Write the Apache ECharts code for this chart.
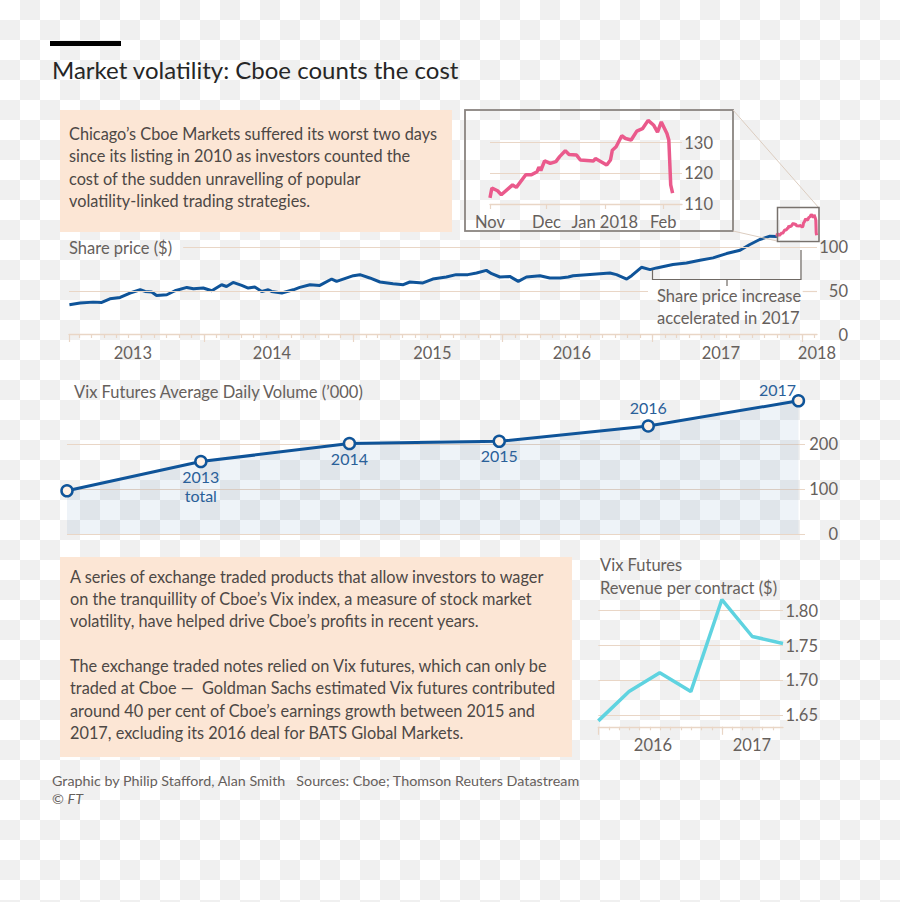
<!DOCTYPE html>
<html>
<head>
<meta charset="utf-8">
<script src="https://cdn.jsdelivr.net/npm/echarts@6/dist/echarts.min.js"></script>
<style>
html,body{margin:0;padding:0;}
body{width:900px;height:902px;position:relative;overflow:hidden;background-color:#ffffff;
  background-image:url("data:image/svg+xml,%3Csvg xmlns='http://www.w3.org/2000/svg' width='40' height='40'%3E%3Crect width='40' height='40' fill='%23ffffff'/%3E%3Crect x='20' y='0' width='20' height='20' fill='%23f0f0f0'/%3E%3Crect x='0' y='20' width='20' height='20' fill='%23f0f0f0'/%3E%3C/svg%3E");
  background-size:40px 40px;background-repeat:repeat;
  font-family:Lato,"Open Sans",sans-serif;color:#4d4845;}
#chart{position:absolute;left:0;top:0;width:900px;height:902px;z-index:2;}
.box{position:absolute;background:#fce6d5;z-index:1;}
.t{position:absolute;white-space:nowrap;z-index:3;}
.body{font-size:16.3px;line-height:22.4px;color:#4d4845;}
.lab{font-size:16.5px;line-height:20px;color:#66605c;}
#ov{position:absolute;left:0;top:0;z-index:3;}
</style>
</head>
<body>
<div style="position:absolute;left:50px;top:41px;width:71px;height:4.5px;background:#000;"></div>
<div class="t" style="left:52px;top:55px;font-size:24px;line-height:30px;color:#262626;">Market volatility: Cboe counts the cost</div>

<div class="box" style="left:60px;top:110px;width:392px;height:122px;"></div>
<div class="t body" style="left:69px;top:122.8px;">Chicago’s Cboe Markets suffered its worst two days<br>since its listing in 2010 as investors counted the<br>cost of the sudden unravelling of popular<br>volatility-linked trading strategies.</div>

<div class="t lab" style="left:69px;top:238px;">Share price ($)</div>
<div class="t lab" style="left:657px;top:285px;line-height:22px;">Share price increase<br>accelerated in 2017</div>
<div class="t lab" style="left:74px;top:382px;">Vix Futures Average Daily Volume (’000)</div>

<div class="box" style="left:60px;top:557px;width:512px;height:200px;"></div>
<div class="t body" style="left:70px;top:565.9px;line-height:22.3px;">A series of exchange traded products that allow investors to wager<br>on the tranquillity of Cboe’s Vix index, a measure of stock market<br>volatility, have helped drive Cboe’s profits in recent years.<br><br>The exchange traded notes relied on Vix futures, which can only be<br>traded at Cboe —&nbsp; Goldman Sachs estimated Vix futures contributed<br>around 40 per cent of Cboe’s earnings growth between 2015 and<br>2017, excluding its 2016 deal for BATS Global Markets.</div>

<div class="t lab" style="left:600px;top:554px;line-height:23px;">Vix Futures<br>Revenue per contract ($)</div>

<div class="t" style="left:52px;top:772px;font-size:14.3px;line-height:18px;color:#66605c;">Graphic by Philip Stafford, Alan Smith&nbsp;&nbsp; Sources: Cboe; Thomson Reuters Datastream<br>© <i>FT</i></div>

<svg id="ov" width="900" height="902">
  <rect x="465" y="110" width="268" height="121" fill="none" stroke="#8a8480" stroke-width="1.8"/>
  <line x1="733" y1="110" x2="819" y2="208" stroke="#dccdc0" stroke-width="1"/>
  <line x1="733" y1="231" x2="777" y2="241" stroke="#dccdc0" stroke-width="1"/>
  <rect x="777.5" y="207.5" width="41.5" height="34" fill="none" stroke="#77716c" stroke-width="1.5"/>
  <polyline points="652.5,270 652.5,279.5 801,279.5 801,250" fill="none" stroke="#6f6964" stroke-width="1.2"/>
  <line x1="727" y1="279.5" x2="727" y2="286" stroke="#6f6964" stroke-width="1.2"/>
</svg>

<div id="chart"></div>

<script>
// ---------- data ----------
const shareDates = ['2013-02-06','2013-03-04','2013-04-05','2013-04-26','2013-05-16','2013-06-10','2013-07-04','2013-07-29','2013-08-10','2013-08-26','2013-09-07','2013-10-02','2013-10-22','2013-11-20','2013-12-06','2013-12-30',
 '2014-01-20','2014-02-13','2014-02-25','2014-03-13','2014-04-03','2014-04-19','2014-05-05','2014-05-22','2014-06-07','2014-06-15','2014-07-10','2014-08-07','2014-08-23','2014-09-17','2014-10-11','2014-11-09','2014-11-21',
 '2015-01-01','2015-01-17','2015-02-10','2015-03-07','2015-04-08','2015-05-03','2015-05-19','2015-06-20','2015-07-14','2015-08-16','2015-09-09','2015-10-08','2015-10-29','2015-11-22','2015-12-05','2015-12-25',
 '2016-01-18','2016-02-08','2016-02-28','2016-04-01','2016-04-25','2016-05-20','2016-06-09','2016-06-21','2016-07-24','2016-09-19','2016-10-05','2016-10-30','2016-11-11','2016-12-05','2016-12-26',
 '2017-01-11','2017-02-20','2017-03-25','2017-04-27','2017-05-29','2017-07-01','2017-08-03','2017-08-27','2017-09-20','2017-10-15','2017-11-01'];
const sharePrices = [33.9,35.9,37,36.6,40.8,42.3,47.4,51.1,49.2,48.5,44.6,45.4,50,53.8,52.3,53.1,
 50,56.9,54.9,59.5,56.1,53.1,54.3,49.2,51.1,49.2,47.4,51.1,53.8,56.9,56.1,63.4,60.7,
 67.2,68.4,64.6,60,58,56.9,60,58.9,63.4,65.7,68.4,68.4,70.3,73.3,69.5,65.7,
 66.4,60.7,65.7,67.2,64.6,64.6,65.7,67.2,68.4,70.3,68.4,63.4,67.2,76.8,74.1,
 76.1,79.9,81.8,84.8,87.6,92.5,96.3,102.9,108.6,112.4,112];

const recentDates = ['2017-11-01','2017-11-02','2017-11-05','2017-11-07','2017-11-13','2017-11-15','2017-11-20','2017-11-23','2017-11-26','2017-11-27','2017-11-28','2017-11-30',
 '2017-12-03','2017-12-06','2017-12-08','2017-12-11','2017-12-13','2017-12-17','2017-12-19','2017-12-26','2017-12-27',
 '2018-01-02','2018-01-04','2018-01-05','2018-01-07','2018-01-10','2018-01-12','2018-01-15','2018-01-18','2018-01-21','2018-01-24','2018-01-27','2018-01-29','2018-01-31',
 '2018-02-03','2018-02-04','2018-02-05','2018-02-06'];
const recentPrices = [112,115.2,114.3,113,116.2,115.4,119.5,119.5,120.5,122,120.9,124,
 123.2,123.8,125.4,127.3,126.1,125.9,124.3,124,124.8,
 122.7,124.3,127.5,128.6,132.2,131.3,130.8,133.7,134.5,137.2,135.6,133.4,136.7,
 132.9,130.8,116.2,113.5];

const volDates = ['2013-01-31','2013-12-24','2014-12-22','2015-12-23','2016-12-21','2017-12-23'];
const volValues = [96, 161, 201, 206, 240, 296];
const volPointLabels = ['', '2013\ntotal', '2014', '2015', '2016', '2017'];

const revDates = ['2015-12-31','2016-03-31','2016-06-30','2016-09-30','2016-12-31','2017-03-31','2017-06-30'];
const revValues = [1.642, 1.684, 1.711, 1.684, 1.816, 1.763, 1.753];

// tick labels
const shareYearLabelDates = ['2013-07-11','2014-06-16','2015-07-13','2016-06-18','2017-06-17','2018-02-07'];
const recentMonthLabelDates = ['2017-11-01','2017-12-01','2018-01-01','2018-02-01'];
const revYearLabelDates = ['2016-06-10','2017-03-30'];

// ---------- helpers ----------
const ts = s => { const [y,m,d] = s.split('-').map(Number); return new Date(y, m-1, d).getTime(); };
const pairs = (ds, vs) => ds.map((d,i) => [ts(d), vs[i]]);
function monthStarts(from, to){
  const out=[]; let [y,m]=from.split('-').map(Number); const [ty,tm]=to.split('-').map(Number);
  while(y<ty || (y===ty && m<=tm)){ out.push(ts(y+'-'+m+'-1')); m++; if(m>12){m=1;y++;} }
  return out;
}
const TAN = '#e9d6c6';
const LAB = {color:'#66605c', fontFamily:'Lato', fontSize:16.5};
const BLUE = '#0f5499';
const PINK = '#ea5a8c';
const CYAN = '#5fd3e0';
const yearOf = v => String(new Date(v).getFullYear());
const MON = ['Jan','Feb','Mar','Apr','May','Jun','Jul','Aug','Sep','Oct','Nov','Dec'];

const shareMin = ts('2013-02-05'), shareMax = ts('2018-02-07');
const volMin = ts('2013-01-31'), volMax = ts('2018-01-08');
const recMin = ts('2017-11-01'), recMax = ts('2018-02-11');
const revMin = ts('2015-12-31'), revMax = ts('2017-06-30');

const shareGridSegments = [
  ['2013-11-11','2018-02-07',100],
  ['2013-02-05','2016-12-21',50],
  ['2018-01-03','2018-02-07',50]
];

const chart = echarts.init(document.getElementById('chart'), null, {renderer:'svg'});

const volLabelStyles = [
  {show:false},
  {show:true, position:'bottom', distance:-2},
  {show:true, position:'bottom', distance:-2},
  {show:true, position:'bottom', distance:-2},
  {show:true, position:'top', distance:2.5},
  {show:true, position:'top', distance:2.5, offset:[-21, 8]}
];

function dateAxis(grid, min, max, extra){
  return Object.assign({type:'value', gridIndex:grid, position:'bottom', min:min, max:max, scale:true,
    axisLine:{show:false}, axisTick:{show:false}, axisLabel:{show:false}, splitLine:{show:false}}, extra);
}

const option = {
  animation:false,
  textStyle:{fontFamily:'Lato'},
  grid:[
    {left:69, top:247, width:748, height:87.5},
    {left:490, top:142.5, width:192, height:61.5},
    {left:67, top:444, width:738, height:90},
    {left:598.3, top:610.7, width:184.7, height:104.6}
  ],
  xAxis:[
    dateAxis(0, shareMin, shareMax, {
      axisLine:{show:true, lineStyle:{color:TAN, width:1.3}},
      axisTick:{show:true, customValues:monthStarts('2013-3','2018-2'), length:3.5, lineStyle:{color:TAN, width:1.2}},
      axisLabel:{show:true, customValues:shareYearLabelDates.map(ts), formatter:yearOf, margin:10, showMinLabel:true, showMaxLabel:true, ...LAB}}),
    dateAxis(0, shareMin, shareMax, {
      axisTick:{show:true, customValues:[shareMin, ts('2014-01-01'), ts('2015-01-01'), ts('2016-01-01'), ts('2017-01-01'), ts('2018-01-01')], length:7.5, lineStyle:{color:TAN, width:1.2}}}),
    dateAxis(1, recMin, recMax, {
      axisLine:{show:true, lineStyle:{color:TAN, width:1.3}},
      axisTick:{show:true, customValues:recentMonthLabelDates.map(ts), length:5, lineStyle:{color:TAN, width:1.2}},
      axisLabel:{show:true, customValues:recentMonthLabelDates.map(ts), margin:9, showMinLabel:true, showMaxLabel:true,
        formatter: v => { const d = new Date(v); return d.getMonth()===0 ? 'Jan ' + d.getFullYear() : MON[d.getMonth()]; }, ...LAB}}),
    dateAxis(2, volMin, volMax, {show:false}),
    dateAxis(3, revMin, revMax, {offset:11.5,
      axisLine:{show:true, lineStyle:{color:TAN, width:1.3}},
      axisTick:{show:true, customValues:monthStarts('2016-2','2017-6'), length:3.5, lineStyle:{color:TAN, width:1.2}},
      axisLabel:{show:true, customValues:revYearLabelDates.map(ts), formatter:yearOf, margin:10, showMinLabel:true, showMaxLabel:true, ...LAB}}),
    dateAxis(3, revMin, revMax, {offset:11.5,
      axisTick:{show:true, customValues:[ts('2016-01-01'), ts('2017-01-01')], length:8, lineStyle:{color:TAN, width:1.2}}})
  ],
  yAxis:[
    {type:'value', gridIndex:0, position:'right', min:0, max:100, interval:50,
     axisLine:{show:false}, axisTick:{show:false}, splitLine:{show:false},
     axisLabel:{align:'right', margin:31, ...LAB}},
    {type:'value', gridIndex:1, position:'right', min:110, max:130, interval:10,
     axisLine:{show:false}, axisTick:{show:false},
     splitLine:{show:true, lineStyle:{color:TAN, width:1.2}},
     axisLabel:{align:'right', margin:31, ...LAB}},
    {type:'value', gridIndex:2, position:'right', min:0, max:200, interval:100,
     axisLine:{show:false}, axisTick:{show:false},
     splitLine:{show:true, lineStyle:{color:TAN, width:1.2}},
     axisLabel:{align:'right', margin:33, ...LAB}},
    {type:'value', gridIndex:3, position:'right', min:1.65, max:1.8, interval:0.05,
     axisLine:{show:false}, axisTick:{show:false},
     splitLine:{show:true, lineStyle:{color:TAN, width:1.2}},
     axisLabel:{align:'right', margin:35, formatter: v => v.toFixed(2), ...LAB}}
  ],
  series:[
    {type:'line', xAxisIndex:0, yAxisIndex:0, data:[], z:1, silent:true,
     markLine:{silent:true, symbol:['none','none'], animation:false, label:{show:false},
       lineStyle:{color:TAN, width:1.2, type:'solid'}, emphasis:{disabled:true},
       data: shareGridSegments.map(([a,b,v]) => [{coord:[ts(a), v]}, {coord:[ts(b), v]}])}},
    {type:'line', xAxisIndex:0, yAxisIndex:0, data:pairs(shareDates, sharePrices), z:3,
     showSymbol:false, clip:false, lineStyle:{color:BLUE, width:3}, itemStyle:{color:BLUE}},
    {type:'line', xAxisIndex:0, yAxisIndex:0, data:pairs(recentDates, recentPrices), z:3,
     showSymbol:false, clip:false, lineStyle:{color:PINK, width:3}, itemStyle:{color:PINK}},
    {type:'line', xAxisIndex:2, yAxisIndex:1, data:pairs(recentDates, recentPrices), z:3,
     showSymbol:false, clip:false, lineStyle:{color:PINK, width:3.5}, itemStyle:{color:PINK}},
    {type:'line', xAxisIndex:3, yAxisIndex:2, z:3, clip:false,
     data: volDates.map((d,i) => ({value:[ts(d), volValues[i]], label:volLabelStyles[i]})),
     symbol:'circle', symbolSize:11, showSymbol:true,
     lineStyle:{color:BLUE, width:3},
     itemStyle:{color:'#fff1e5', borderColor:BLUE, borderWidth:2.5},
     areaStyle:{color:'rgba(15,84,153,0.1)'},
     label:{color:'#2a6099', fontFamily:'Lato', fontSize:16, lineHeight:19.5,
       formatter: p => volPointLabels[p.dataIndex]}},
    {type:'line', xAxisIndex:4, yAxisIndex:3, data:pairs(revDates, revValues), z:3,
     showSymbol:false, clip:false, lineStyle:{color:CYAN, width:3.5}, itemStyle:{color:CYAN}}
  ]
};
chart.setOption(option);
</script>
</body>
</html>
